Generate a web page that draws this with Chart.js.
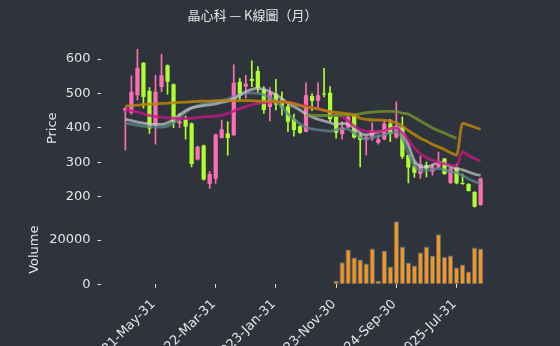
<!DOCTYPE html>
<html>
<head>
<meta charset="utf-8">
<script src="https://cdn.jsdelivr.net/npm/chart.js@4.4.1/dist/chart.umd.min.js"></script>
<style>
  html, body { margin: 0; padding: 0; background: #2f343c; }
  #wrap { position: relative; width: 560px; height: 346px; background: #2f343c; }
  #wrap canvas { position: absolute; left: 0; top: 0; }
</style>
</head>
<body>
<div id="wrap">
  <canvas id="priceChart" width="560" height="346"></canvas>
  <canvas id="volChart" width="560" height="346"></canvas>
</div>
<script>
const chartTitle = "晶心科 — K線圖（月）";
const tickLabels = ["2021-May-31", "2022-Mar-31", "2023-Jan-31", "2023-Nov-30", "2024-Sep-30", "2025-Jul-31"];
const xTicks = [0, 10, 20, 30, 40, 50, 60];
const priceTicks = [200, 300, 400, 500, 600];
const volTicks = [0, 20000];

// monthly OHLC, one entry per month starting 2021-May
const opens  = [450,444,495,589,507,408,519,582,527,413,425,413,308,349,237,253,371,384,379,534,
                520,542,565,512,461,500,483,463,426,405,389,493,479,500,502,432,382,401,437,379,
                365,372,357,367,413,372,401,321,289,266,292,273,285,311,240,285,240,237,214,176];
const highs  = [460,551,628,590,517,553,614,583,528,442,434,415,347,350,273,382,423,418,583,544,
                553,595,578,520,517,541,505,471,440,407,531,500,531,573,520,442,418,440,440,384,
                377,415,379,423,425,476,432,322,301,318,301,295,330,312,289,295,266,238,215,254];
const lows   = [335,440,481,457,384,353,505,498,401,401,367,287,306,248,224,239,370,321,378,481,
                486,520,503,442,420,452,437,389,376,384,388,450,457,490,418,370,367,400,370,287,
                321,364,353,365,360,370,311,240,256,253,258,263,284,265,238,237,236,216,170,175];
const closes = [458,505,575,490,398,505,553,534,415,420,403,295,345,250,266,381,396,371,531,495,
                528,536,515,452,502,468,459,418,394,386,495,478,495,497,425,386,401,432,372,365,
                374,394,367,413,382,403,316,285,270,295,282,287,301,266,282,239,237,217,171,253];

// volume only exists for the last 25 months
const volumes = [null,null,null,null,null,null,null,null,null,null,null,null,null,null,null,null,null,null,null,null,
                 null,null,null,null,null,null,null,null,null,null,null,null,null,null,null,
                 1640,10000,15730,12100,11200,9370,16200,1640,15300,8000,28450,17100,9820,8450,14360,
                 17100,13000,22550,12400,13000,7550,8900,5730,16640,16200];

// moving average lines
const maGold = [463,465,466,468,469,470,471,472,473,474,475,476,477,478,478,479,479,479,479,479,
                479,479,478,478,477,477,476,474,470,465,460,458,455,451,447,445,443,441,438,428,
                425,423,423,422,420,414,405,392,381,370,362,352,345,337,328,321,413,408,402,396];
const maOlive = [null,null,null,null,null,null,null,null,null,null,null,null,null,null,null,null,null,null,null,null,
                 null,null,null,null,null,null,null,null,null,null,
                 437,437,436,436,436,436,437,437,438,441,444,446,447,448,448,447,443,440,430,420,
                 410,400,392,385,377,370,null,null,null,null];
const maPink = [454,450,446,441,436,433,431,429,428,427,427,428,430,432,433,434,437,442,449,456,
                462,467,471,473,475,476,476,474,471,467,463,459,455,451,447,440,432,420,405,395,
                391,389,389,392,398,400,385,365,342,325,314,306,300,296,292,289,330,320,311,304];
const maLight = [425,421,417,414,412,410,410,415,425,438,450,458,462,465,467,470,474,478,485,495,
                 505,512,515,512,505,496,485,472,462,452,440,432,425,420,415,410,413,412,400,385,
                 380,384,388,392,396,403,390,350,305,288,286,292,300,296,288,282,278,272,266,262];
const maSlate = [413,411,408,405,404,403,402,405,415,430,445,458,465,470,474,477,480,484,490,496,
                 500,502,500,496,488,477,462,440,425,412,402,397,394,392,390,395,398,396,385,372,
                 368,372,376,380,385,388,370,325,290,277,277,280,282,278,273,270,262,252,244,239];

const TEXT = '#e4e4e4';
const UP = '#ff6eb4';
const DOWN = '#adff2f';
const XMIN = -4.05, XMAX = 63.05;
const AXIS_W = 101;

Chart.defaults.font.family = "'DejaVu Sans', sans-serif";
Chart.defaults.font.size = 13;
Chart.defaults.color = TEXT;

const candleColors = closes.map((c, i) => c >= opens[i] ? UP : DOWN);
const pts = arr => arr.map((v, i) => v == null ? null : { x: i, y: v }).filter(p => p);
const fixTicks = list => s => { s.ticks = list.map(v => ({ value: v })); };

const lo = Math.min(...lows), hi = Math.max(...highs);
const margin = (hi - lo) * 0.05;
const volMax = Math.max(...volumes.filter(v => v != null)) * 1.1;

function maLine(data, color) {
    return {
        type: 'line',
        data: pts(data),
        borderColor: color,
        borderWidth: 2.8,
        pointRadius: 0,
        cubicInterpolationMode: 'monotone',
        order: 1
    };
}

function sideAxis(min, max, ticks, label, titlePad) {
    return {
        min: min,
        max: max,
        afterBuildTicks: fixTicks(ticks),
        afterFit: s => { s.width = AXIS_W; },
        border: { display: false },
        grid: { drawOnChartArea: false, tickLength: 3.5, tickColor: TEXT },
        ticks: { padding: 7, color: TEXT, callback: v => String(v) },
        title: { display: true, text: label, color: TEXT, font: { size: 13 }, padding: { top: titlePad, bottom: 0 } }
    };
}

new Chart(document.getElementById('priceChart'), {
    type: 'bar',
    data: {
        datasets: [
            maLine(maGold, 'rgba(184,134,11,0.85)'),
            maLine(maOlive, 'rgba(110,145,45,0.85)'),
            maLine(maPink, 'rgba(199,21,133,0.8)'),
            maLine(maLight, 'rgba(200,202,206,0.7)'),
            maLine(maSlate, 'rgba(95,135,142,0.75)'),
            {
                data: opens.map((o, i) => ({ x: i, y: [o, closes[i]] })),
                backgroundColor: candleColors,
                barPercentage: 0.7,
                categoryPercentage: 1,
                grouped: false,
                minBarLength: 1,
                order: 2
            },
            {
                data: lows.map((l, i) => ({ x: i, y: [l, highs[i]] })),
                backgroundColor: candleColors,
                barThickness: 1,
                grouped: false,
                order: 3
            }
        ]
    },
    options: {
        responsive: false,
        animation: false,
        layout: { padding: { left: 0, right: 55, top: 0, bottom: 131 } },
        plugins: {
            legend: { display: false },
            tooltip: { enabled: false },
            title: {
                display: true,
                text: chartTitle,
                color: TEXT,
                font: { family: "'Noto Sans CJK TC', sans-serif", size: 13, weight: 'normal' },
                padding: { top: 7.5, bottom: 18.4 }
            }
        },
        scales: {
            x: { type: 'linear', min: XMIN, max: XMAX, display: false, offset: false },
            y: sideAxis(lo - margin, hi + margin, priceTicks, 'Price', 45)
        }
    }
});

new Chart(document.getElementById('volChart'), {
    type: 'bar',
    data: {
        datasets: [{
            data: pts(volumes),
            backgroundColor: '#f7941d',
            borderColor: '#4b6f8c',
            borderWidth: 1,
            barPercentage: 0.9,
            categoryPercentage: 1
        }]
    },
    options: {
        responsive: false,
        animation: false,
        layout: { padding: { left: 0, right: 55, top: 215, bottom: 0 } },
        plugins: { legend: { display: false }, tooltip: { enabled: false } },
        scales: {
            x: {
                type: 'linear', min: XMIN, max: XMAX, offset: false,
                afterBuildTicks: fixTicks(xTicks),
                afterFit: s => { s.height = 61.7; },
                border: { display: false },
                grid: { drawOnChartArea: false, tickLength: 3.5, tickColor: TEXT },
                ticks: {
                    autoSkip: false,
                    minRotation: 45, maxRotation: 45, labelOffset: 28, padding: 9,
                    color: TEXT,
                    callback: v => tickLabels[v / 10] || ''
                }
            },
            y: sideAxis(0, volMax, volTicks, 'Volume', 27)
        }
    }
});
</script>
</body>
</html>
